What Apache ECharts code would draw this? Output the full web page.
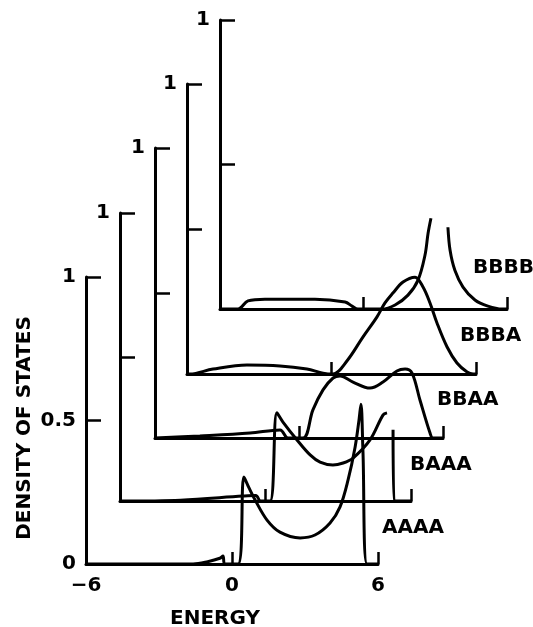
<!DOCTYPE html>
<html>
<head>
<meta charset="utf-8">
<script src="https://cdn.jsdelivr.net/npm/echarts@6/dist/echarts.min.js"></script>
<style>
html,body{margin:0;padding:0;background:#fff;}
#chart{width:533px;height:627px;}
</style>
</head>
<body>
<div id="chart"></div>
<script>
// ---- data (energy, density of states) ----
const seriesNames = ['AAAA', 'BAAA', 'BBAA', 'BBBA', 'BBBB'];
const xTickLabels = ['\u22126', '0', '6'];
const yTickLabels = ['0', '0.5', '1'];

const aaaaEnergy = [-6, -3, -1.6, -1.0, -0.5, -0.37, -0.3, 0.25, 0.49, 0.70, 0.95, 1.44, 1.97, 2.8, 3.41, 4.03, 4.44, 4.77, 5.06, 5.22, 5.30, 5.38, 5.55, 6];
const aaaaDos    = [0, 0, 0, 0.008, 0.02, 0.028, 0, 0, 0.303, 0.265, 0.223, 0.153, 0.111, 0.091, 0.101, 0.143, 0.199, 0.293, 0.408, 0.502, 0.557, 0.397, 0, 0];

const baaaEnergy = [-6, -3.5, -0.93, -0.4, -0.2, 0.19, 0.47, 0.72, 1.3, 1.84, 2.25, 2.78, 3.2, 3.61, 4.31, 4.85, 5.01, 5.12, 5.26, 5.30, 6];
const baaaDos    = [0, 0.003, 0.017, 0.019, 0, 0, 0.306, 0.274, 0.212, 0.16, 0.135, 0.125, 0.132, 0.149, 0.212, 0.299, 0.306, null, 0.247, 0, 0];

const bbaaEnergy = [-6, -4.13, -2.04, -0.79, -0.46, 0.17, 0.58, 1.0, 1.42, 1.71, 2.25, 2.96, 3.5, 4.08, 4.42, 4.71, 5.04, 5.46, 5.58, 6];
const bbaaDos    = [0, 0.007, 0.017, 0.028, 0, 0, 0.097, 0.166, 0.207, 0.214, 0.193, 0.172, 0.193, 0.231, 0.238, 0.224, 0.131, 0.017, 0, 0];

const bbbaEnergy = [-6, -5.88, -4.92, -3.51, -2.14, -1.02, -0.35, 0.06, 0.64, 1.31, 1.89, 2.22, 2.55, 2.97, 3.47, 3.8, 4.09, 4.38, 4.8, 5.21, 5.63, 5.88, 6];
const bbbaDos    = [0, 0, 0.017, 0.031, 0.028, 0.017, 0.003, 0, 0.045, 0.128, 0.197, 0.245, 0.279, 0.317, 0.334, 0.3, 0.245, 0.176, 0.093, 0.038, 0.007, 0, 0];

const bbbbEnergy = [-6, -5.25, -4.83, -4.12, -2.03, -0.77, -0.48, -0.23, 0.77, 1.32, 1.86, 2.28, 2.57, 2.7, 2.82, 3.2, 3.53, 3.62, 3.82, 4.16, 4.66, 5.2, 5.79, 6];
const bbbbDos    = [0, 0, 0.028, 0.034, 0.034, 0.024, 0.01, 0, 0, 0.014, 0.048, 0.1, 0.186, 0.262, 0.314, null, 0.283, 0.203, 0.134, 0.076, 0.031, 0.01, 0, 0];

const energies = [aaaaEnergy, baaaEnergy, bbaaEnergy, bbbaEnergy, bbbbEnergy];
const dosValues = [aaaaDos, baaaDos, bbaaDos, bbbaDos, bbbbDos];

// ---- layout ----
const panels = [
  {left: 86,  top: 277, width: 292, height: 287},
  {left: 120, top: 213, width: 291, height: 288},
  {left: 155, top: 148, width: 288, height: 290},
  {left: 187, top: 84,  width: 289, height: 290},
  {left: 220, top: 20,  width: 287, height: 289}
];
const labelPos = [[382, 528], [410, 465], [437, 400], [460, 336], [473, 268]];

const FONT = '"DejaVu Sans", sans-serif';
const INK = '#000';

const grids = [], xAxes = [], yAxes = [], series = [];
panels.forEach((p, i) => {
  grids.push({left: p.left, top: p.top, width: p.width, height: p.height, containLabel: false, outerBoundsMode: 'none'});
  xAxes.push({
    type: 'value', gridIndex: i, min: -6, max: 6, interval: 6,
    axisLine: {show: true, onZero: false, lineStyle: {color: INK, width: 3}},
    axisTick: {show: true, inside: true, length: 12, lineStyle: {color: INK, width: 2.5}},
    axisLabel: {
      show: i === 0, margin: 12, color: INK, fontFamily: FONT, fontWeight: 'bold', fontSize: 20,
      formatter: v => xTickLabels[Math.round((v + 6) / 6)]
    },
    splitLine: {show: false}
  });
  yAxes.push({
    type: 'value', gridIndex: i, min: 0, max: 1, interval: 0.5,
    axisLine: {show: true, onZero: false, lineStyle: {color: INK, width: 3}},
    axisTick: {show: true, inside: true, length: 15, lineStyle: {color: INK, width: 2.5}},
    axisLabel: {
      show: true, margin: 10, color: INK, fontFamily: FONT, fontWeight: 'bold', fontSize: 20,
      formatter: v => {
        const k = Math.round(v * 2);
        if (i === 0) return yTickLabels[k];
        return k === 2 ? yTickLabels[2] : '';
      }
    },
    splitLine: {show: false}
  });
  series.push({
    name: seriesNames[i], type: 'line', xAxisIndex: i, yAxisIndex: i,
    data: energies[i].map((e, j) => [e, dosValues[i][j] === null ? '-' : dosValues[i][j]]),
    showSymbol: false, smooth: 0.35, connectNulls: false, clip: false,
    lineStyle: {color: INK, width: 3}, z: 3
  });
});

const graphics = seriesNames.map((n, i) => ({
  type: 'text', x: labelPos[i][0], y: labelPos[i][1],
  style: {text: n, fill: INK, font: 'bold 20px ' + FONT, align: 'left', verticalAlign: 'middle'}
}));
graphics.push({
  type: 'text', x: 215, y: 619,
  style: {text: 'ENERGY', fill: INK, font: 'bold 20px ' + FONT, align: 'center', verticalAlign: 'middle'}
});
graphics.push({
  type: 'text', x: 25, y: 428, rotation: Math.PI / 2,
  style: {text: 'DENSITY OF STATES', fill: INK, font: 'bold 20px ' + FONT, align: 'center', verticalAlign: 'middle'}
});

const chart = echarts.init(document.getElementById('chart'), null, {renderer: 'canvas'});
chart.setOption({
  animation: false,
  backgroundColor: '#fff',
  grid: grids, xAxis: xAxes, yAxis: yAxes, series: series,
  graphic: graphics
});
</script>
</body>
</html>
